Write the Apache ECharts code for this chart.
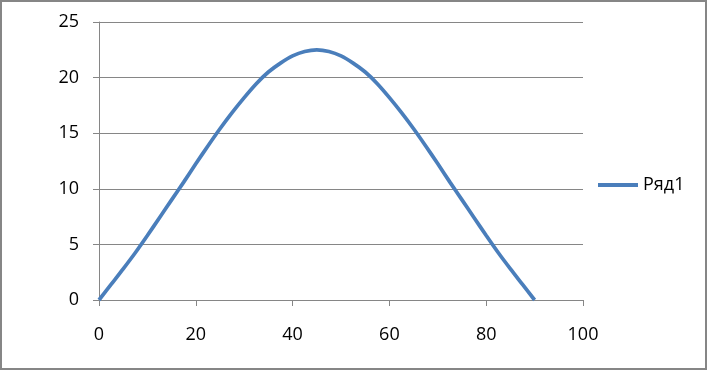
<!DOCTYPE html>
<html><head><meta charset="utf-8">
<script src="https://cdn.jsdelivr.net/npm/echarts@6/dist/echarts.min.js"></script>
<style>
html,body{margin:0;padding:0;background:#fff;}
#frame{position:absolute;left:0;top:0;width:703px;height:366px;border:2px solid #868686;}
#c{position:absolute;left:0;top:0;width:707px;height:370px;}
</style></head>
<body><div id="frame"></div><div id="c"></div>
<script>
const seriesName = 'Ряд1';
const xValues = [0, 2.5, 5, 7.5, 10, 12.5, 15, 17.5, 20, 22.5, 25, 27.5, 30, 32.5, 35, 37.5, 40, 42.5, 45,
                 47.5, 50, 52.5, 55, 57.5, 60, 62.5, 65, 67.5, 70, 72.5, 75, 77.5, 80, 82.5, 85, 87.5, 90];
const yValues = [0, 1.4, 2.8, 4.25, 5.8, 7.4, 9.0, 10.6, 12.25, 13.85, 15.4, 16.85, 18.2, 19.45, 20.5, 21.3, 21.95, 22.35, 22.5,
                 22.35, 21.95, 21.3, 20.5, 19.45, 18.2, 16.85, 15.4, 13.85, 12.25, 10.6, 9.0, 7.4, 5.8, 4.25, 2.8, 1.4, 0];
const xTicks = [0, 20, 40, 60, 80, 100];
const yTicks = [0, 5, 10, 15, 20, 25];

const chart = echarts.init(document.getElementById('c'), null, {renderer:'canvas'});
const font = '"Open Sans", "DejaVu Sans", sans-serif';
const gray = '#868686';
chart.setOption({
  animation: false,
  grid: {left: 99, right: 124, top: 22, bottom: 70},
  legend: {
    data: [seriesName], left: 598, top: 176, orient: 'vertical', padding: 0,
    itemWidth: 40, itemHeight: 4, icon: 'rect',
    textStyle: {fontFamily: font, fontSize: 18, color: '#000'}
  },
  xAxis: {
    type: 'value', min: xTicks[0], max: xTicks[xTicks.length-1], interval: 20,
    axisLine: {show: true, lineStyle: {color: gray, width: 1}},
    axisTick: {show: true, length: 6, lineStyle: {color: gray}},
    axisLabel: {margin: 26, fontFamily: font, fontSize: 18, color: '#000'},
    splitLine: {show: false}
  },
  yAxis: {
    type: 'value', min: yTicks[0], max: yTicks[yTicks.length-1], interval: 5,
    axisLine: {show: true, lineStyle: {color: gray, width: 1}},
    axisTick: {show: true, length: 6, lineStyle: {color: gray}},
    axisLabel: {margin: 20, fontFamily: font, fontSize: 18, color: '#000'},
    splitLine: {show: true, lineStyle: {color: gray, width: 1}}
  },
  series: [{
    name: seriesName, type: 'line', smooth: 0.3, showSymbol: false,
    data: xValues.map((x, i) => [x, yValues[i]]),
    lineStyle: {color: '#4a7ebb', width: 3.75},
    itemStyle: {color: '#4a7ebb'}
  }]
});
</script></body></html>
